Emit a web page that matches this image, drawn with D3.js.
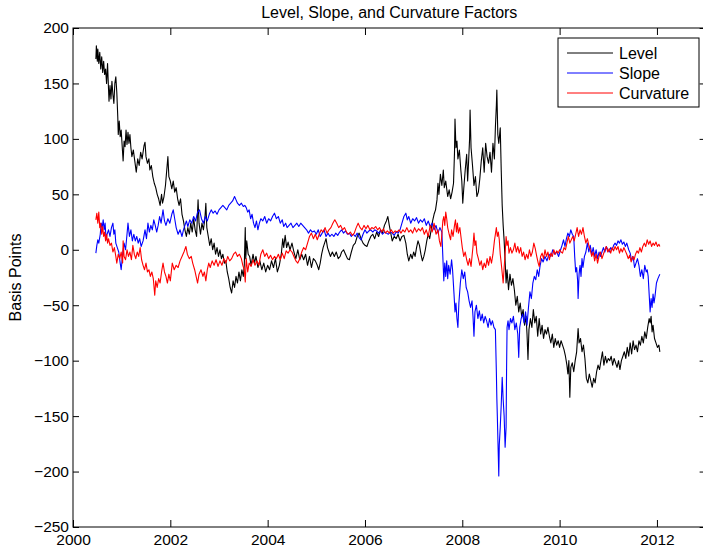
<!DOCTYPE html>
<html>
<head>
<meta charset="utf-8">
<script src="https://cdn.jsdelivr.net/npm/d3@7"></script>
<style>
  html, body { margin: 0; padding: 0; background: #fff; }
  svg { display: block; font-family: "Liberation Sans", Arial, Helvetica, sans-serif; }
</style>
</head>
<body>
<svg id="chart" width="703" height="548"></svg>
<script>
// Daily factor estimates, sampled as [decimal year, basis points]
const levelSeries = [
  [2000.47,172],[2000.48,184],[2000.50,170],[2000.51,181],[2000.53,168],[2000.55,178],[2000.57,163],[2000.59,174],
  [2000.61,160],[2000.63,170],[2000.65,158],[2000.67,163],[2000.69,150],[2000.71,168],[2000.73,145],[2000.74,134],
  [2000.76,148],[2000.78,136],[2000.80,152],[2000.82,140],[2000.84,132],[2000.86,150],[2000.88,156],[2000.90,142],
  [2000.92,120],[2000.93,104],[2000.95,116],[2000.97,102],[2000.99,108],[2001.01,94],[2001.03,80],[2001.05,98],
  [2001.07,93],[2001.09,108],[2001.11,95],[2001.13,106],[2001.15,96],[2001.17,104],[2001.19,92],[2001.21,84],
  [2001.24,90],[2001.27,80],[2001.30,70],[2001.33,82],[2001.36,76],[2001.39,88],[2001.42,82],[2001.46,94],
  [2001.48,97],[2001.50,84],[2001.53,78],[2001.56,82],[2001.58,72],[2001.61,76],[2001.64,66],[2001.67,60],
  [2001.70,56],[2001.73,50],[2001.76,46],[2001.79,40],[2001.82,50],[2001.84,42],[2001.87,48],[2001.90,58],
  [2001.95,84],[2001.97,66],[2002.00,62],[2002.03,55],[2002.06,62],[2002.09,52],[2002.12,56],[2002.15,46],
  [2002.18,40],[2002.21,46],[2002.24,32],[2002.27,26],[2002.30,18],[2002.33,12],[2002.36,20],[2002.39,14],
  [2002.42,24],[2002.45,16],[2002.48,28],[2002.51,18],[2002.54,12],[2002.57,45],[2002.59,24],[2002.62,14],
  [2002.65,24],[2002.68,18],[2002.71,28],[2002.73,42],[2002.75,20],[2002.78,12],[2002.81,4],[2002.84,10],
  [2002.87,0],[2002.90,6],[2002.93,-4],[2002.96,2],[2002.99,-6],[2003.02,0],[2003.05,-8],[2003.08,-4],
  [2003.11,-12],[2003.14,-10],[2003.17,-20],[2003.20,-26],[2003.23,-34],[2003.26,-39],[2003.29,-28],[2003.32,-34],
  [2003.35,-24],[2003.38,-30],[2003.41,-20],[2003.44,-28],[2003.47,-18],[2003.50,-24],[2003.52,-14],[2003.54,20],
  [2003.55,-8],[2003.57,8],[2003.60,-4],[2003.63,-6],[2003.66,-14],[2003.70,-4],[2003.73,-12],[2003.76,-6],
  [2003.80,-16],[2003.84,-10],[2003.88,-18],[2003.92,-12],[2003.96,-20],[2004.00,-14],[2004.04,-18],[2004.08,-10],
  [2004.12,-16],[2004.16,-8],[2004.20,-20],[2004.24,-14],[2004.28,-4],[2004.31,10],[2004.33,2],[2004.36,13],
  [2004.39,2],[2004.42,7],[2004.46,0],[2004.50,6],[2004.54,-2],[2004.58,-8],[2004.62,0],[2004.66,-9],
  [2004.70,-4],[2004.74,-9],[2004.78,-4],[2004.82,-14],[2004.86,-6],[2004.90,-16],[2004.94,-8],[2004.98,-10],
  [2005.02,-14],[2005.05,-18],[2005.08,-12],[2005.11,-4],[2005.14,2],[2005.17,6],[2005.20,10],[2005.23,2],
  [2005.26,-2],[2005.29,-6],[2005.33,-2],[2005.37,-6],[2005.41,-2],[2005.45,-8],[2005.49,-6],[2005.52,-2],
  [2005.56,0],[2005.60,-4],[2005.64,-8],[2005.68,-9],[2005.72,-2],[2005.76,4],[2005.80,6],[2005.84,12],
  [2005.88,15],[2005.92,10],[2005.96,6],[2006.00,4],[2006.04,3],[2006.08,8],[2006.12,12],[2006.16,14],
  [2006.20,10],[2006.24,16],[2006.28,12],[2006.32,18],[2006.36,15],[2006.40,22],[2006.44,26],[2006.47,30],
  [2006.50,22],[2006.53,15],[2006.56,8],[2006.60,12],[2006.64,10],[2006.68,14],[2006.72,8],[2006.76,12],
  [2006.80,13],[2006.84,6],[2006.87,-4],[2006.90,-10],[2006.94,-4],[2006.97,-8],[2007.00,-2],[2007.03,-6],
  [2007.06,2],[2007.09,8],[2007.12,4],[2007.15,-4],[2007.18,-10],[2007.21,-6],[2007.24,0],[2007.27,8],
  [2007.30,14],[2007.33,10],[2007.36,18],[2007.39,26],[2007.42,32],[2007.45,36],[2007.48,45],[2007.50,60],
  [2007.52,50],[2007.55,68],[2007.58,58],[2007.61,72],[2007.63,56],[2007.66,62],[2007.70,48],[2007.73,54],
  [2007.76,46],[2007.79,52],[2007.82,60],[2007.84,88],[2007.85,118],[2007.87,92],[2007.89,98],[2007.91,82],
  [2007.94,90],[2007.97,72],[2007.99,62],[2008.01,42],[2008.03,55],[2008.06,72],[2008.09,86],[2008.11,62],
  [2008.13,80],[2008.15,100],[2008.16,126],[2008.18,92],[2008.21,76],[2008.24,58],[2008.27,66],[2008.30,48],
  [2008.33,52],[2008.36,64],[2008.39,80],[2008.42,92],[2008.45,70],[2008.48,96],[2008.51,84],[2008.54,78],
  [2008.57,88],[2008.60,70],[2008.63,96],[2008.66,82],[2008.68,110],[2008.70,130],[2008.71,144],[2008.73,104],
  [2008.75,96],[2008.78,110],[2008.80,72],[2008.82,40],[2008.84,22],[2008.86,8],[2008.88,-10],[2008.90,-30],
  [2008.92,-18],[2008.95,-36],[2008.98,-22],[2009.01,-32],[2009.04,-26],[2009.07,-36],[2009.10,-50],[2009.13,-42],
  [2009.16,-56],[2009.19,-48],[2009.22,-60],[2009.25,-54],[2009.28,-68],[2009.31,-60],[2009.33,-76],[2009.35,-99],
  [2009.37,-72],[2009.40,-62],[2009.43,-70],[2009.46,-54],[2009.49,-66],[2009.52,-60],[2009.55,-78],[2009.58,-62],
  [2009.61,-76],[2009.64,-68],[2009.67,-80],[2009.70,-72],[2009.73,-76],[2009.76,-70],[2009.79,-78],[2009.82,-84],
  [2009.85,-76],[2009.88,-88],[2009.91,-80],[2009.94,-86],[2009.97,-82],[2010.00,-88],[2010.03,-82],[2010.06,-86],
  [2010.09,-90],[2010.12,-96],[2010.15,-104],[2010.17,-112],[2010.19,-100],[2010.21,-133],[2010.23,-106],[2010.26,-102],
  [2010.29,-110],[2010.32,-100],[2010.35,-92],[2010.38,-71],[2010.40,-84],[2010.43,-80],[2010.46,-92],[2010.49,-86],
  [2010.52,-98],[2010.55,-116],[2010.58,-120],[2010.61,-112],[2010.64,-118],[2010.67,-124],[2010.70,-116],[2010.73,-120],
  [2010.76,-110],[2010.79,-104],[2010.82,-108],[2010.85,-100],[2010.88,-92],[2010.91,-104],[2010.94,-96],[2010.97,-102],
  [2011.00,-98],[2011.03,-100],[2011.06,-96],[2011.09,-104],[2011.12,-98],[2011.15,-102],[2011.18,-106],[2011.21,-100],
  [2011.24,-108],[2011.27,-100],[2011.30,-96],[2011.33,-92],[2011.36,-98],[2011.39,-88],[2011.42,-96],[2011.45,-84],
  [2011.48,-94],[2011.51,-82],[2011.54,-90],[2011.57,-86],[2011.60,-92],[2011.63,-82],[2011.66,-86],[2011.69,-78],
  [2011.72,-84],[2011.75,-74],[2011.78,-80],[2011.81,-70],[2011.84,-62],[2011.86,-66],[2011.88,-60],[2011.90,-74],
  [2011.92,-68],[2011.95,-80],[2011.98,-84],[2012.01,-88],[2012.04,-86],[2012.06,-92]
];

const slopeSeries = [
  [2000.47,-3],[2000.49,4],[2000.51,9],[2000.53,6],[2000.56,14],[2000.58,24],[2000.60,20],[2000.62,27],
  [2000.64,18],[2000.66,24],[2000.68,9],[2000.70,14],[2000.73,18],[2000.76,12],[2000.79,20],[2000.82,24],
  [2000.84,14],[2000.86,18],[2000.88,6],[2000.91,2],[2000.94,-2],[2000.97,-12],[2000.99,-18],[2001.02,-4],
  [2001.05,6],[2001.08,0],[2001.11,14],[2001.13,24],[2001.16,12],[2001.19,18],[2001.22,8],[2001.25,14],
  [2001.28,8],[2001.31,12],[2001.34,6],[2001.37,10],[2001.40,3],[2001.44,8],[2001.48,18],[2001.51,10],
  [2001.54,24],[2001.57,16],[2001.60,22],[2001.63,18],[2001.66,27],[2001.69,22],[2001.72,16],[2001.75,22],
  [2001.78,30],[2001.81,24],[2001.85,36],[2001.88,26],[2001.91,22],[2001.95,28],[2001.99,24],[2002.03,32],
  [2002.06,36],[2002.09,28],[2002.12,20],[2002.16,14],[2002.20,18],[2002.24,12],[2002.27,18],[2002.30,22],
  [2002.33,26],[2002.36,21],[2002.40,27],[2002.44,24],[2002.48,30],[2002.52,26],[2002.56,34],[2002.60,36],
  [2002.64,28],[2002.68,24],[2002.72,30],[2002.76,26],[2002.80,32],[2002.84,36],[2002.88,33],[2002.92,35],
  [2002.96,32],[2003.00,36],[2003.04,38],[2003.08,40],[2003.12,38],[2003.16,36],[2003.20,40],[2003.24,42],
  [2003.28,44],[2003.32,48],[2003.35,45],[2003.38,42],[2003.42,40],[2003.46,42],[2003.50,39],[2003.53,40],
  [2003.56,38],[2003.59,34],[2003.62,36],[2003.65,28],[2003.68,32],[2003.71,24],[2003.74,20],[2003.77,26],
  [2003.80,18],[2003.83,24],[2003.86,28],[2003.90,26],[2003.94,30],[2003.98,24],[2004.02,28],[2004.06,26],
  [2004.10,30],[2004.14,33],[2004.18,28],[2004.22,30],[2004.26,24],[2004.30,27],[2004.33,21],[2004.37,24],
  [2004.40,20],[2004.44,22],[2004.48,24],[2004.52,20],[2004.56,22],[2004.60,24],[2004.64,21],[2004.68,24],
  [2004.72,22],[2004.76,20],[2004.80,18],[2004.84,15],[2004.88,18],[2004.92,16],[2004.96,17],[2005.00,14],
  [2005.04,18],[2005.08,12],[2005.12,15],[2005.16,18],[2005.20,12],[2005.24,15],[2005.28,12],[2005.32,14],
  [2005.36,12],[2005.40,15],[2005.44,13],[2005.48,16],[2005.52,18],[2005.56,15],[2005.60,17],[2005.64,14],
  [2005.68,15],[2005.72,12],[2005.76,14],[2005.80,12],[2005.84,15],[2005.88,11],[2005.92,9],[2005.96,14],
  [2006.00,18],[2006.04,15],[2006.08,17],[2006.12,18],[2006.16,16],[2006.20,18],[2006.24,17],[2006.28,15],
  [2006.32,17],[2006.36,14],[2006.40,16],[2006.44,15],[2006.48,14],[2006.52,16],[2006.56,15],[2006.60,13],
  [2006.64,16],[2006.68,15],[2006.72,18],[2006.76,24],[2006.80,30],[2006.84,33],[2006.87,27],[2006.90,30],
  [2006.94,24],[2006.98,28],[2007.02,26],[2007.06,29],[2007.10,24],[2007.14,27],[2007.18,25],[2007.22,28],
  [2007.26,22],[2007.30,26],[2007.34,21],[2007.38,24],[2007.42,18],[2007.46,22],[2007.50,15],[2007.54,20],
  [2007.58,16],[2007.60,-6],[2007.62,-28],[2007.64,-12],[2007.66,-24],[2007.68,-10],[2007.70,-26],[2007.72,-14],
  [2007.75,-22],[2007.78,-9],[2007.80,-18],[2007.83,-40],[2007.85,-56],[2007.87,-48],[2007.89,-62],[2007.91,-70],
  [2007.93,-48],[2007.96,-30],[2007.99,-18],[2008.02,-26],[2008.05,-20],[2008.08,-34],[2008.11,-38],[2008.14,-46],
  [2008.17,-52],[2008.20,-46],[2008.22,-60],[2008.24,-78],[2008.26,-56],[2008.29,-50],[2008.32,-62],[2008.35,-55],
  [2008.38,-64],[2008.41,-58],[2008.44,-66],[2008.47,-60],[2008.50,-64],[2008.53,-70],[2008.56,-62],[2008.59,-68],
  [2008.62,-64],[2008.65,-70],[2008.68,-72],[2008.70,-110],[2008.71,-134],[2008.72,-150],[2008.74,-186],[2008.75,-204],
  [2008.76,-176],[2008.78,-160],[2008.80,-140],[2008.82,-115],[2008.84,-135],[2008.86,-150],[2008.88,-178],[2008.90,-160],
  [2008.91,-108],[2008.92,-70],[2008.94,-64],[2008.96,-72],[2008.99,-62],[2009.02,-66],[2009.05,-60],[2009.08,-72],
  [2009.11,-66],[2009.14,-76],[2009.16,-97],[2009.18,-70],[2009.21,-62],[2009.24,-58],[2009.27,-66],[2009.30,-56],
  [2009.33,-68],[2009.36,-52],[2009.39,-38],[2009.42,-44],[2009.45,-30],[2009.48,-24],[2009.51,-27],[2009.54,-18],
  [2009.57,-24],[2009.60,-14],[2009.63,-8],[2009.66,-11],[2009.70,-6],[2009.74,-10],[2009.78,-4],[2009.82,-6],
  [2009.86,0],[2009.90,-4],[2009.94,-2],[2009.98,-6],[2010.02,0],[2010.05,4],[2010.08,9],[2010.11,3],
  [2010.14,10],[2010.17,15],[2010.20,12],[2010.23,18],[2010.26,14],[2010.29,12],[2010.31,-6],[2010.33,-20],
  [2010.35,-16],[2010.37,-28],[2010.38,-44],[2010.40,-22],[2010.42,-14],[2010.44,-24],[2010.46,-8],[2010.48,-16],
  [2010.51,-6],[2010.54,-2],[2010.57,6],[2010.60,-2],[2010.63,4],[2010.66,-4],[2010.69,2],[2010.72,-6],
  [2010.75,0],[2010.78,-8],[2010.81,-2],[2010.84,-6],[2010.87,-2],[2010.90,2],[2010.93,-2],[2010.96,3],
  [2010.99,0],[2011.02,-2],[2011.05,2],[2011.08,0],[2011.11,4],[2011.14,6],[2011.17,4],[2011.20,8],
  [2011.23,6],[2011.26,9],[2011.29,5],[2011.32,7],[2011.35,3],[2011.38,6],[2011.42,0],[2011.45,-3],
  [2011.48,-10],[2011.51,-6],[2011.54,-16],[2011.57,-12],[2011.60,-8],[2011.63,-14],[2011.66,-24],[2011.69,-18],
  [2011.72,-26],[2011.75,-14],[2011.78,-20],[2011.80,-18],[2011.82,-24],[2011.84,-40],[2011.86,-56],[2011.88,-44],
  [2011.90,-52],[2011.92,-40],[2011.94,-48],[2011.96,-42],[2011.99,-30],[2012.02,-26],[2012.04,-24],[2012.06,-22]
];

const curvatureSeries = [
  [2000.47,27],[2000.49,33],[2000.51,24],[2000.53,34],[2000.55,20],[2000.57,24],[2000.59,14],[2000.61,21],
  [2000.63,12],[2000.65,16],[2000.67,8],[2000.69,14],[2000.71,6],[2000.73,10],[2000.76,4],[2000.79,6],
  [2000.82,-2],[2000.85,2],[2000.88,-6],[2000.90,-12],[2000.93,-4],[2000.96,-8],[2000.99,-2],[2001.02,-12],
  [2001.03,8],[2001.05,-6],[2001.08,-9],[2001.11,0],[2001.14,-6],[2001.17,-2],[2001.20,-9],[2001.23,4],
  [2001.26,-4],[2001.29,-8],[2001.32,-2],[2001.35,-6],[2001.38,2],[2001.41,-9],[2001.44,-14],[2001.47,-18],
  [2001.50,-12],[2001.53,-20],[2001.56,-18],[2001.59,-24],[2001.62,-20],[2001.65,-26],[2001.68,-41],[2001.70,-28],
  [2001.73,-34],[2001.76,-26],[2001.79,-30],[2001.82,-20],[2001.85,-12],[2001.88,-20],[2001.91,-24],[2001.94,-30],
  [2001.97,-22],[2002.00,-28],[2002.04,-12],[2002.08,-18],[2002.12,-14],[2002.16,-16],[2002.20,-10],[2002.24,-6],
  [2002.28,-2],[2002.32,3],[2002.35,-4],[2002.39,-8],[2002.43,-6],[2002.46,-12],[2002.50,-18],[2002.53,-24],
  [2002.56,-30],[2002.59,-22],[2002.63,-18],[2002.67,-24],[2002.70,-20],[2002.73,-28],[2002.76,-18],[2002.79,-12],
  [2002.82,-16],[2002.86,-10],[2002.90,-14],[2002.94,-9],[2002.98,-15],[2003.02,-10],[2003.06,-14],[2003.10,-8],
  [2003.14,-12],[2003.18,-6],[2003.22,-10],[2003.26,-8],[2003.30,-4],[2003.34,-2],[2003.38,-6],[2003.42,-4],
  [2003.46,-8],[2003.49,-14],[2003.52,-18],[2003.54,-29],[2003.56,-8],[2003.59,-20],[2003.62,-12],[2003.66,-15],
  [2003.70,-9],[2003.74,-14],[2003.78,-10],[2003.82,-14],[2003.86,-4],[2003.90,0],[2003.94,-6],[2003.98,-3],
  [2004.02,-8],[2004.06,-5],[2004.10,-9],[2004.14,-6],[2004.18,-8],[2004.22,-4],[2004.26,-9],[2004.30,-3],
  [2004.34,-8],[2004.38,-1],[2004.42,-3],[2004.46,0],[2004.50,-2],[2004.54,-6],[2004.58,-10],[2004.62,-12],
  [2004.66,-8],[2004.70,-2],[2004.74,2],[2004.78,0],[2004.82,6],[2004.86,12],[2004.90,15],[2004.94,10],
  [2004.98,14],[2005.02,9],[2005.06,14],[2005.10,18],[2005.14,16],[2005.18,20],[2005.22,15],[2005.26,18],
  [2005.30,20],[2005.34,24],[2005.38,27],[2005.42,24],[2005.46,20],[2005.50,22],[2005.54,18],[2005.58,20],
  [2005.62,16],[2005.66,14],[2005.70,16],[2005.74,13],[2005.78,15],[2005.82,20],[2005.86,24],[2005.90,20],
  [2005.94,18],[2005.98,22],[2006.02,19],[2006.06,22],[2006.10,18],[2006.14,20],[2006.18,19],[2006.22,21],
  [2006.26,18],[2006.30,20],[2006.34,16],[2006.38,19],[2006.42,15],[2006.46,17],[2006.50,15],[2006.54,18],
  [2006.58,15],[2006.62,17],[2006.66,16],[2006.70,18],[2006.74,15],[2006.78,18],[2006.82,16],[2006.86,20],
  [2006.90,16],[2006.94,18],[2006.98,15],[2007.02,20],[2007.06,16],[2007.10,19],[2007.14,17],[2007.18,20],
  [2007.22,14],[2007.26,18],[2007.30,12],[2007.34,22],[2007.38,16],[2007.42,24],[2007.46,14],[2007.50,18],
  [2007.53,8],[2007.56,3],[2007.58,14],[2007.60,26],[2007.62,30],[2007.64,22],[2007.66,34],[2007.68,28],
  [2007.70,20],[2007.73,14],[2007.76,9],[2007.78,18],[2007.81,12],[2007.84,22],[2007.86,27],[2007.88,16],
  [2007.90,24],[2007.92,15],[2007.95,20],[2007.98,9],[2008.00,2],[2008.03,-6],[2008.06,-2],[2008.09,-9],
  [2008.12,-14],[2008.15,-8],[2008.18,-15],[2008.20,-6],[2008.22,3],[2008.24,15],[2008.26,4],[2008.28,8],
  [2008.30,-3],[2008.33,-8],[2008.36,-14],[2008.39,-10],[2008.42,-18],[2008.45,-12],[2008.48,-16],[2008.51,-8],
  [2008.54,-14],[2008.57,-6],[2008.60,-12],[2008.63,-4],[2008.66,8],[2008.68,14],[2008.70,20],[2008.72,12],
  [2008.74,16],[2008.76,9],[2008.78,-4],[2008.80,-12],[2008.82,-21],[2008.84,-30],[2008.86,-16],[2008.88,-4],
  [2008.90,12],[2008.92,4],[2008.94,8],[2008.96,-3],[2008.99,2],[2009.02,-3],[2009.05,0],[2009.08,6],
  [2009.11,-2],[2009.14,3],[2009.17,-3],[2009.20,2],[2009.23,-6],[2009.26,-2],[2009.29,-9],[2009.32,-4],
  [2009.35,-8],[2009.38,0],[2009.41,-6],[2009.44,-2],[2009.47,6],[2009.50,1],[2009.53,-6],[2009.56,-12],
  [2009.58,-15],[2009.61,-6],[2009.64,-3],[2009.67,-8],[2009.70,0],[2009.73,-6],[2009.76,-2],[2009.79,-9],
  [2009.82,-3],[2009.85,-6],[2009.88,0],[2009.91,-4],[2009.94,-1],[2009.97,-3],[2010.00,0],[2010.03,-2],
  [2010.06,-3],[2010.09,2],[2010.12,0],[2010.15,6],[2010.18,12],[2010.21,6],[2010.24,9],[2010.27,12],
  [2010.30,8],[2010.33,14],[2010.36,20],[2010.39,12],[2010.42,18],[2010.45,14],[2010.48,20],[2010.51,12],
  [2010.54,6],[2010.57,10],[2010.60,4],[2010.63,0],[2010.66,-6],[2010.69,-2],[2010.72,-10],[2010.75,-4],
  [2010.78,-12],[2010.81,-6],[2010.84,-2],[2010.87,-8],[2010.90,-4],[2010.93,0],[2010.96,3],[2010.99,-2],
  [2011.02,1],[2011.05,-3],[2011.08,2],[2011.11,-1],[2011.14,3],[2011.17,0],[2011.20,3],[2011.23,-3],
  [2011.26,1],[2011.29,-2],[2011.32,2],[2011.35,-1],[2011.38,-4],[2011.41,-8],[2011.44,-5],[2011.47,-11],
  [2011.50,-6],[2011.53,-9],[2011.56,-4],[2011.59,-1],[2011.62,-3],[2011.65,2],[2011.68,-2],[2011.71,3],
  [2011.74,6],[2011.77,3],[2011.80,9],[2011.83,5],[2011.86,8],[2011.89,3],[2011.92,6],[2011.95,4],
  [2011.98,7],[2012.01,3],[2012.04,5],[2012.06,3]
];

const seriesNames = ["Level", "Slope", "Curvature"];
const seriesColors = ["#000000", "#0000ff", "#ff0000"];
const xTicks = [2000, 2002, 2004, 2006, 2008, 2010, 2012];
const yTicks = [-250, -200, -150, -100, -50, 0, 50, 100, 150, 200];
const chartTitle = "Level, Slope, and Curvature Factors";
const yAxisLabel = "Basis Points";

const svg = d3.select("#chart");
const W = 703, H = 548;
const plot = { left: 73, top: 28, right: 705.6, bottom: 527 };
const TICK_FONT = 15.5;
const LABEL_FONT = 16;

svg.append("rect").attr("width", W).attr("height", H).attr("fill", "#fff");

const x = d3.scaleLinear().domain([2000, 2013]).range([plot.left, plot.right]);
const y = d3.scaleLinear().domain([-250, 200]).range([plot.bottom, plot.top]);

// Plot lines, drawn in legend order so Curvature sits on top
const line = d3.line().x(d => x(d[0])).y(d => y(d[1]));
const seriesData = [levelSeries, slopeSeries, curvatureSeries];
const plotArea = svg.append("g");
seriesData.forEach((s, i) => {
  plotArea.append("path")
    .datum(s)
    .attr("fill", "none")
    .attr("stroke", seriesColors[i])
    .attr("stroke-width", 1.1)
    .attr("stroke-linejoin", "round")
    .attr("d", line);
});

// Axes with inward ticks on all four sides
const fmt = d3.format("d");
const yFmt = v => (v < 0 ? "\u2212" + Math.abs(v) : String(v));

const gBottom = svg.append("g").attr("transform", `translate(0,${plot.bottom})`)
  .call(d3.axisBottom(x).tickValues(xTicks).tickFormat(fmt).tickSizeInner(-7).tickSizeOuter(0).tickPadding(7));
const gTop = svg.append("g").attr("transform", `translate(0,${plot.top})`)
  .call(d3.axisTop(x).tickValues(xTicks).tickFormat("").tickSizeInner(-7).tickSizeOuter(0));
const gLeft = svg.append("g").attr("transform", `translate(${plot.left},0)`)
  .call(d3.axisLeft(y).tickValues(yTicks).tickFormat(yFmt).tickSizeInner(-6).tickSizeOuter(0).tickPadding(4));
const gRight = svg.append("g").attr("transform", `translate(${plot.right},0)`)
  .call(d3.axisRight(y).tickValues(yTicks).tickFormat("").tickSizeInner(-6).tickSizeOuter(0));

[gBottom, gTop, gLeft, gRight].forEach(g => {
  g.select(".domain").remove();
  g.selectAll(".tick line").attr("stroke", "#000").attr("stroke-width", 1);
  g.selectAll("text").attr("fill", "#000").attr("font-size", TICK_FONT)
    .attr("font-family", "'Liberation Sans', Arial, Helvetica, sans-serif");
});

// Axes box
svg.append("rect")
  .attr("x", plot.left).attr("y", plot.top)
  .attr("width", plot.right - plot.left).attr("height", plot.bottom - plot.top)
  .attr("fill", "none").attr("stroke", "#000").attr("stroke-width", 1);

// Title and y label
svg.append("text")
  .attr("x", (plot.left + plot.right) / 2).attr("y", 18)
  .attr("text-anchor", "middle").attr("font-size", LABEL_FONT).attr("fill", "#000")
  .text(chartTitle);

svg.append("text")
  .attr("transform", `translate(21,${(plot.top + plot.bottom) / 2}) rotate(-90)`)
  .attr("text-anchor", "middle").attr("font-size", LABEL_FONT).attr("fill", "#000")
  .text(yAxisLabel);

// Legend
const legend = svg.append("g").attr("transform", "translate(558,38)");
legend.append("rect").attr("x", 0).attr("y", 0).attr("width", 141).attr("height", 69)
  .attr("fill", "#fff").attr("stroke", "#000").attr("stroke-width", 1);
seriesNames.forEach((name, i) => {
  const yy = 15 + i * 20;
  legend.append("line").attr("x1", 9).attr("x2", 55).attr("y1", yy).attr("y2", yy)
    .attr("stroke", seriesColors[i]).attr("stroke-width", 1);
  legend.append("text").attr("x", 61).attr("y", yy).attr("dy", "0.35em")
    .attr("font-size", LABEL_FONT).attr("fill", "#000").text(name);
});
</script>
</body>
</html>
